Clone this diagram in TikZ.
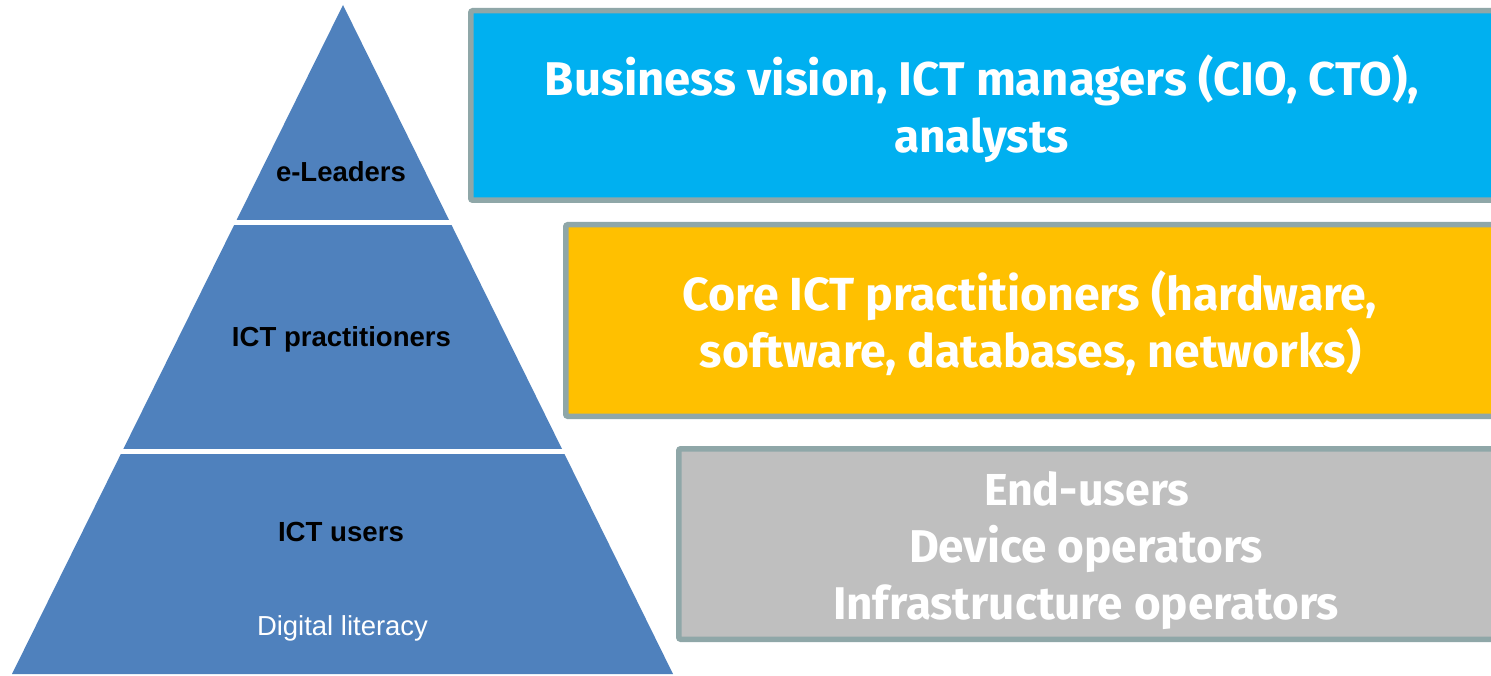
\documentclass[tikz,border=0pt]{standalone}
\usepackage{fontspec}
\newfontfamily\boxfont{Fira Sans}
\newfontfamily\pyrfont{Liberation Sans}
\definecolor{pyrblue}{HTML}{4F81BD}
\definecolor{boxblue}{HTML}{00B0F0}
\definecolor{boxgold}{HTML}{FFC000}
\definecolor{boxgray}{HTML}{BFBFBF}
\definecolor{boxedge}{HTML}{8FA7A8}
\tikzset{
  panel/.style={draw=boxedge, line width=5.5pt, rounded corners=2pt, inner sep=0pt},
  boxtext/.style={anchor=base, inner sep=0pt, text=white, font=\boxfont\bfseries\fontsize{40}{48}\selectfont},
  pyrlabel/.style={anchor=base, inner sep=0pt, text=black, font=\pyrfont\bfseries\fontsize{27.5}{33}\selectfont},
  pyrsub/.style={anchor=base, inner sep=0pt, text=white, font=\pyrfont\fontsize{27.5}{33}\selectfont},
  divider/.style={draw=white, line width=5pt}
}
\begin{document}
\begin{tikzpicture}[x=1pt, y=-1pt]
\clip (0,0) rectangle (1491,676);
\fill[white] (0,0) rectangle (1491,676);
% pyramid
\coordinate (apex) at (343,5);
\coordinate (bl) at (12,674);
\coordinate (br) at (673,674);
\fill[pyrblue] (apex) -- (br) -- (bl) -- cycle;
\coordinate (d1l) at (200,223);
\coordinate (d1r) at (490,223);
\coordinate (d2l) at (80,451.5);
\coordinate (d2r) at (610,451.5);
\draw[divider] (d1l) -- (d1r);
\draw[divider] (d2l) -- (d2r);
\node[pyrlabel] (lead) at (341,182) {\resizebox{130pt}{!}{e-Leaders}};
\node[pyrlabel] (prac) at (341.5,347) {\resizebox{219pt}{!}{ICT practitioners}};
\node[pyrlabel] (users) at (341,541) {\resizebox{126pt}{!}{ICT users}};
\node[pyrsub] (dig) at (342.5,635) {\resizebox{171pt}{!}{Digital literacy}};
% boxes
\node[panel, fill=boxblue, minimum width=1029.25pt, minimum height=189.5pt] (b1) at (985.4,105.5) {};
\node[panel, fill=boxgold, minimum width=934.25pt, minimum height=191.5pt] (b2) at (1032.9,320.5) {};
\node[panel, fill=boxgray, minimum width=821.25pt, minimum height=190.5pt] (b3) at (1089.4,544) {};
% box texts
\node[boxtext] (t1a) at (982,96) {\resizebox{874pt}{!}{Business vision, ICT managers (CIO, CTO),}};
\node[boxtext] (t1b) at (981.5,153) {\resizebox{175pt}{!}{analysts}};
\node[boxtext] (t2a) at (1030,311) {\resizebox{694pt}{!}{Core ICT practitioners (hardware,}};
\node[boxtext] (t2b) at (1030.5,367) {\resizebox{661pt}{!}{software, databases, networks)}};
\node[boxtext] (t3a) at (1086.5,505) {\resizebox{205pt}{!}{End-users}};
\node[boxtext] (t3b) at (1086,562) {\resizebox{354pt}{!}{Device operators}};
\node[boxtext] (t3c) at (1086,619) {\resizebox{506pt}{!}{Infrastructure operators}};
\end{tikzpicture}
\end{document}
